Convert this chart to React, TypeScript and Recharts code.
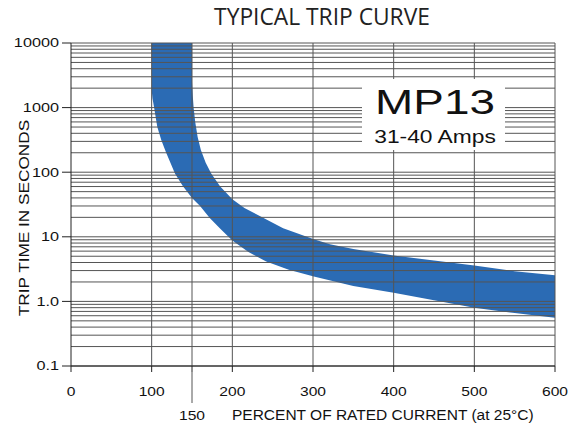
import React from 'react';
import { ComposedChart, Area, XAxis, YAxis, ReferenceLine } from 'recharts';

// top edge of the band (longest trip time): percent of rated current -> seconds
const slowPct = [100, 150, 150, 151, 152, 154, 157, 161, 167, 174, 185, 200, 215, 234, 263, 301, 321, 350, 400, 450, 500, 550, 600];
const slowSec = [10000, 10000, 2500, 1500, 1000, 600, 350, 220, 140, 95, 60, 38, 28, 21, 13.6, 9.2, 7.7, 6.45, 5.13, 4.3, 3.6, 2.94, 2.53];

// bottom edge of the band (shortest trip time)
const fastPct = [100, 100, 101, 103, 107, 112, 118, 129, 139, 150, 160, 172, 186, 200, 220, 242, 270, 301, 350, 400, 450, 500, 550, 600];
const fastSec = [10000, 1900, 1400, 1000, 500, 312, 200, 95, 60, 40, 30, 19.5, 13, 8.8, 5.8, 4.15, 3.1, 2.44, 1.73, 1.36, 1.04, 0.8, 0.66, 0.56];

const xTicks = [0, 100, 150, 200, 300, 400, 500, 600];
const xGrid = [100, 150, 200, 300, 400, 500, 600];
const yTicks = [0.1, 1, 10, 100, 1000, 10000];
const yTickLabels = ['0.1', '1.0', '10', '100', '1000', '10000'];
const decades = [0.1, 1, 10, 100, 1000];
const minorSteps = [1, 2, 3, 4, 5, 6, 7, 8, 9];

const slowData = slowPct.map((pct, i) => ({ pct, t: slowSec[i] }));
const fastData = fastPct.map((pct, i) => ({ pct, t: fastSec[i] }));
const yGrid = decades.flatMap((d) => minorSteps.map((k) => d * k)).concat([10000]);

const BLUE = '#2b6bb4';
const GRID = '#555';
const SANS = 'Liberation Sans, Arial, sans-serif';

const YTick = (props: any) => {
  const { x, y, payload } = props;
  const label = yTickLabels[yTicks.indexOf(payload.value)];
  return (
    <text x={0} y={0} transform={`translate(${x} ${y}) scale(1.3 1)`} textAnchor="end" dy="0.35em"
      fontSize={12.5} fontFamily={SANS} fill="#111">
      {label}
    </text>
  );
};

const XTick = (props: any) => {
  const { x, y, payload } = props;
  const low = payload.value === 150;
  return (
    <g>
      {low && <line x1={x} x2={x} y1={y} y2={y + 31} stroke={GRID} strokeWidth={1} />}
      <text x={0} y={0} transform={`translate(${x} ${y + (low ? 48 : 24)}) scale(1.25 1)`} textAnchor="middle"
        fontSize={12.5} fontFamily={SANS} fill="#111">
        {payload.value}
      </text>
    </g>
  );
};

export default function App() {
  return (
    <div style={{ position: 'absolute', left: 0, top: 0, width: 577, height: 430, background: '#fff' }}>
      <ComposedChart width={577} height={430} margin={{ top: 43, right: 22, bottom: 6, left: 0 }}>
        <XAxis dataKey="pct" type="number" domain={[0, 600]} ticks={xTicks} interval={0} allowDataOverflow
          height={58} tickSize={6} tickMargin={0} tick={<XTick />}
          axisLine={{ stroke: '#222' }} tickLine={{ stroke: '#222' }} />
        <YAxis type="number" scale="log" domain={[0.1, 10000]} ticks={yTicks} interval={0} allowDataOverflow
          width={71} tickSize={9} tickMargin={3} tick={<YTick />}
          axisLine={{ stroke: '#222' }} tickLine={{ stroke: '#222' }} />
        <Area data={slowData} dataKey="t" type="linear" baseValue={0.1} stroke="none" fill={BLUE} fillOpacity={1}
          dot={false} activeDot={false} isAnimationActive={false} />
        <Area data={fastData} dataKey="t" type="linear" baseValue={0.1} stroke="none" fill="#fff" fillOpacity={1}
          dot={false} activeDot={false} isAnimationActive={false} />
        {yGrid.map((v) => (
          <ReferenceLine key={`y${v}`} y={v} stroke={GRID} strokeWidth={1} />
        ))}
        {xGrid.map((v) => (
          <ReferenceLine key={`x${v}`} x={v} stroke={GRID} strokeWidth={1} />
        ))}
      </ComposedChart>
      <svg width={577} height={430} style={{ position: 'absolute', left: 0, top: 0, pointerEvents: 'none' }}>
        <text x={0} y={0} transform="translate(322 25) scale(0.95 1)" textAnchor="middle"
          fontFamily="Open Sans, sans-serif" fontSize={24} fill="#222">
          TYPICAL TRIP CURVE
        </text>
        <rect x={362} y={79} width={143} height={71} fill="#fff" />
        <text x={0} y={0} transform="translate(435 114) scale(1.33 1)" textAnchor="middle"
          fontFamily={SANS} fontSize={34.5} fill="#111">
          MP13
        </text>
        <text x={0} y={0} transform="translate(435 142.5) scale(1.2 1)" textAnchor="middle"
          fontFamily={SANS} fontSize={19} fill="#111">
          31-40 Amps
        </text>
        <text x={0} y={0} transform="translate(29 218) rotate(-90) scale(1.23 1)" textAnchor="middle"
          fontFamily={SANS} fontSize={14} fill="#111">
          TRIP TIME IN SECONDS
        </text>
        <text x={0} y={0} transform="translate(232 420) scale(1.07 1)" textAnchor="start"
          fontFamily={SANS} fontSize={14.5} fill="#111">
          PERCENT OF RATED CURRENT (at 25°C)
        </text>
      </svg>
    </div>
  );
}
